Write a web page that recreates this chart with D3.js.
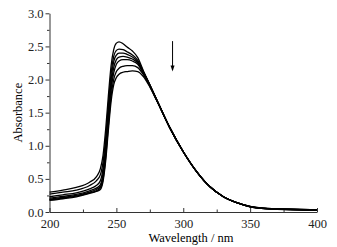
<!DOCTYPE html>
<html>
<head>
<meta charset="utf-8">
<script src="https://cdn.jsdelivr.net/npm/d3@7"></script>
<style>
  body { margin: 0; background: #fff; }
  svg { display: block; }
  .tick text { font-family: "Liberation Serif", "DejaVu Serif", serif; font-size: 12.5px; fill: #222; }
</style>
</head>
<body>
<div id="container"></div>
<script>
// wavelengths (nm) shared by every spectrum
let wavelengths = [200, 210, 220, 230, 235, 238, 240, 242, 244, 246, 248, 250, 252, 255, 258,
                   262, 266, 270, 275, 280, 290, 300, 310, 320, 330, 340, 350, 360, 380, 400];

// absorbance, one array per spectrum
let spectrum1 = [0.30, 0.33, 0.37, 0.45, 0.53, 0.65, 0.85, 1.25, 1.75, 2.20, 2.45, 2.55, 2.57, 2.54, 2.49,
                 2.43, 2.33, 2.14, 1.92, 1.70, 1.27, 0.91, 0.61, 0.38, 0.23, 0.14, 0.085, 0.06, 0.045, 0.035];
let spectrum2 = [0.27, 0.30, 0.33, 0.40, 0.47, 0.56, 0.75, 1.12, 1.62, 2.08, 2.35, 2.44, 2.46, 2.45, 2.42,
                 2.37, 2.29, 2.13, 1.92, 1.70, 1.27, 0.91, 0.61, 0.38, 0.23, 0.14, 0.083, 0.058, 0.042, 0.032];
let spectrum3 = [0.23, 0.26, 0.29, 0.35, 0.40, 0.47, 0.65, 1.02, 1.52, 1.98, 2.27, 2.37, 2.40, 2.40, 2.38,
                 2.34, 2.27, 2.12, 1.92, 1.70, 1.27, 0.91, 0.61, 0.38, 0.23, 0.14, 0.082, 0.056, 0.040, 0.030];
let spectrum4 = [0.21, 0.235, 0.265, 0.32, 0.36, 0.41, 0.58, 0.95, 1.45, 1.90, 2.18, 2.30, 2.34, 2.35, 2.34,
                 2.31, 2.25, 2.11, 1.91, 1.70, 1.27, 0.91, 0.61, 0.38, 0.23, 0.14, 0.080, 0.055, 0.038, 0.028];
let spectrum5 = [0.195, 0.22, 0.25, 0.30, 0.34, 0.38, 0.53, 0.88, 1.38, 1.83, 2.10, 2.23, 2.28, 2.30, 2.30,
                 2.28, 2.23, 2.10, 1.91, 1.70, 1.27, 0.91, 0.61, 0.38, 0.23, 0.14, 0.080, 0.054, 0.037, 0.027];
let spectrum6 = [0.185, 0.21, 0.24, 0.29, 0.32, 0.36, 0.49, 0.82, 1.30, 1.74, 2.00, 2.12, 2.17, 2.20, 2.21,
                 2.21, 2.18, 2.08, 1.90, 1.69, 1.27, 0.91, 0.61, 0.38, 0.23, 0.14, 0.079, 0.053, 0.036, 0.026];
let spectrum7 = [0.175, 0.20, 0.23, 0.28, 0.31, 0.34, 0.46, 0.77, 1.23, 1.66, 1.92, 2.03, 2.08, 2.11, 2.12,
                 2.13, 2.12, 2.05, 1.89, 1.69, 1.27, 0.91, 0.61, 0.38, 0.23, 0.14, 0.078, 0.052, 0.035, 0.025];

let xTicks = [200, 250, 300, 350, 400];
let yTicks = [0.0, 0.5, 1.0, 1.5, 2.0, 2.5, 3.0];

// arrow showing the trend: wavelength, from / to absorbance
let arrowWl = 292;
let arrowFrom = 2.58;
let arrowTo = 2.12;

let w = 337;
let h = 247;
let padLeft = 49.5, padRight = 317, padTop = 13.3, padBottom = 212;

let viz = d3.select("#container")
              .append("svg")
              .attr("width", w)
              .attr("height", h)
;

let xScale = d3.scaleLinear().domain([200, 400]).range([padLeft, padRight]);
let yScale = d3.scaleLinear().domain([0, 3]).range([padBottom, padTop]);

// minor ticks first, no labels
viz.append("g")
    .attr("transform", "translate(0," + padBottom + ")")
    .call(d3.axisBottom(xScale).tickValues(d3.range(225, 400, 50)).tickSize(-2.5).tickFormat(""))
    .call(g => g.select(".domain").remove())
    .selectAll("line").attr("stroke", "#333");
viz.append("g")
    .attr("transform", "translate(" + padLeft + ",0)")
    .call(d3.axisLeft(yScale).tickValues(d3.range(0.25, 3, 0.5)).tickSize(2.5).tickFormat(""))
    .call(g => g.select(".domain").remove())
    .selectAll("line").attr("stroke", "#333");

//xAxis
let xAxisGroup = viz.append("g")
    .attr("transform", "translate(0," + padBottom + ")")
    .call(d3.axisBottom(xScale).tickValues(xTicks).tickSizeInner(-4).tickSizeOuter(0).tickPadding(7));
xAxisGroup.select(".domain").attr("stroke", "#333");
xAxisGroup.selectAll("line").attr("stroke", "#333");

//yAxis
let yAxisGroup = viz.append("g")
    .attr("transform", "translate(" + padLeft + ",0)")
    .call(d3.axisLeft(yScale).tickValues(yTicks).tickSizeInner(4).tickSizeOuter(0).tickPadding(2)
            .tickFormat(d3.format(".1f")));
yAxisGroup.select(".domain").attr("stroke", "#333");
yAxisGroup.selectAll("line").attr("stroke", "#333");

// axis titles
viz.append("text")
    .attr("x", 191)
    .attr("y", 242)
    .attr("text-anchor", "middle")
    .style("font-family", "Liberation Serif, DejaVu Serif, serif")
    .style("font-size", "12.5px")
    .text("Wavelength / nm");
viz.append("text")
    .attr("transform", "translate(22," + ((padTop + padBottom) / 2) + ") rotate(-90)")
    .attr("text-anchor", "middle")
    .style("font-family", "Liberation Serif, DejaVu Serif, serif")
    .style("font-size", "12.5px")
    .text("Absorbance");

//line drawing function
let spectra = [spectrum1, spectrum2, spectrum3, spectrum4, spectrum5, spectrum6, spectrum7];
let lineMaker = d3.line()
    .x(function(d, i) { return xScale(wavelengths[i]); })
    .y(function(d) { return yScale(d); })
    .curve(d3.curveMonotoneX);

viz.append("g").selectAll("path")
    .data(spectra)
    .enter()
    .append("path")
    .attr("d", lineMaker)
    .attr("fill", "none")
    .attr("stroke", "#000")
    .attr("stroke-width", 1.3);

// arrow
let ax = xScale(arrowWl);
viz.append("line")
    .attr("x1", ax).attr("x2", ax)
    .attr("y1", yScale(arrowFrom)).attr("y2", yScale(arrowTo) - 5)
    .attr("stroke", "#000").attr("stroke-width", 1);
viz.append("path")
    .attr("d", "M" + (ax - 2) + "," + (yScale(arrowTo) - 6) + "L" + (ax + 2) + "," + (yScale(arrowTo) - 6) + "L" + ax + "," + yScale(arrowTo) + "Z")
    .attr("fill", "#000");
</script>
</body>
</html>
